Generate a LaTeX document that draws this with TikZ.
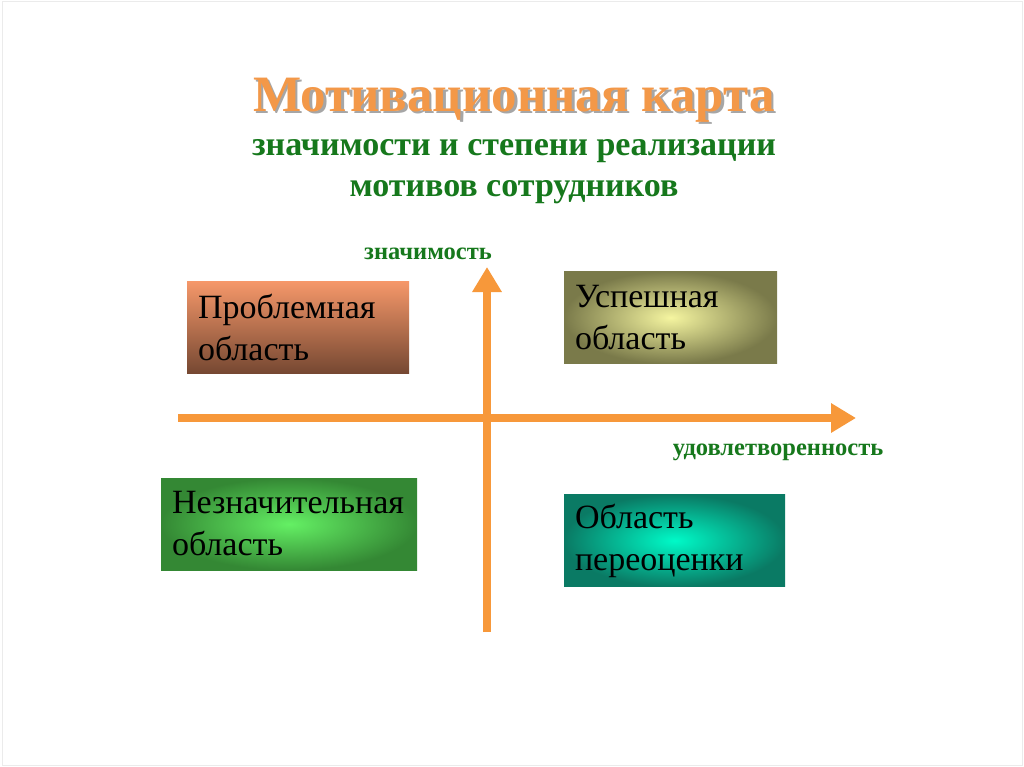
\documentclass[tikz,border=0pt]{standalone}
\usepackage{fontspec}
\setmainfont{Liberation Serif}
\usetikzlibrary{arrows.meta,shadings}
\definecolor{axisor}{RGB}{247,152,58}
\definecolor{titleor}{RGB}{243,152,72}
\definecolor{dgreen}{RGB}{22,120,28}
\tikzset{
  box/.style={draw=none, minimum width=#1, text width=#1-22pt, inner xsep=11pt, inner ysep=0pt,
    minimum height=92pt, align=left, font=\fontsize{34}{42}\selectfont, text=black},
  axis/.style={draw=axisor, line width=8pt, -{Triangle[length=25pt,width=28pt]}},
  lbl/.style={text=dgreen, font=\bfseries\fontsize{24.5}{28}\selectfont, inner sep=0pt},
}
\newcommand{\shadowtext}[1]{\rlap{\hspace{2.5pt}\raisebox{-2.5pt}{\color{black!35}#1}}#1}
\begin{document}
\begin{tikzpicture}[x=1pt,y=-1pt]
\useasboundingbox (0,0) rectangle (1024,767);
\fill[white] (0,0) rectangle (1024,767);
\draw[black!8, line width=1pt] (2,2) rectangle (1022,765);
% title
\node (title) [text=titleor, font=\bfseries\fontsize{51}{56}\selectfont] at (514,101) {\shadowtext{Мотивационная карта}};
\node (sub) [text=dgreen, font=\bfseries\fontsize{34}{41}\selectfont, align=center] at (514,172)
  {значимости и степени реализации\\мотивов сотрудников};
% boxes
\node (prob) [box=222pt, top color={rgb,255:red,246;green,152;blue,106}, bottom color={rgb,255:red,118;green,72;blue,50}] at (298,327) {Проблемная\\область};
\node (usp) [box=213pt, shading=radial, inner color={rgb,255:red,245;green,245;blue,160}, outer color={rgb,255:red,122;green,122;blue,74}] at (670.5,317.5) {Успешная\\область};
\node (nezn) [box=256pt, shading=radial, inner color={rgb,255:red,100;green,240;blue,100}, outer color={rgb,255:red,52;green,136;blue,52}] at (289,524) {Незначительная\\область};
\node (pere) [box=221pt, shading=radial, inner color={rgb,255:red,0;green,250;blue,200}, outer color={rgb,255:red,10;green,122;blue,100}] at (674.5,540.5) {Область\\переоценки};
% axes
\coordinate (xs) at (178,418);
\coordinate (xe) at (856,418);
\coordinate (ys) at (487,632);
\coordinate (ye) at (487,267);
\draw[axis] (xs) -- (xe);
\draw[axis] (ys) -- (ye);
\node (zn) [lbl] at (428,254) {значимость};
\node (ud) [lbl] at (778,452) {удовлетворенность};
\end{tikzpicture}
\end{document}
